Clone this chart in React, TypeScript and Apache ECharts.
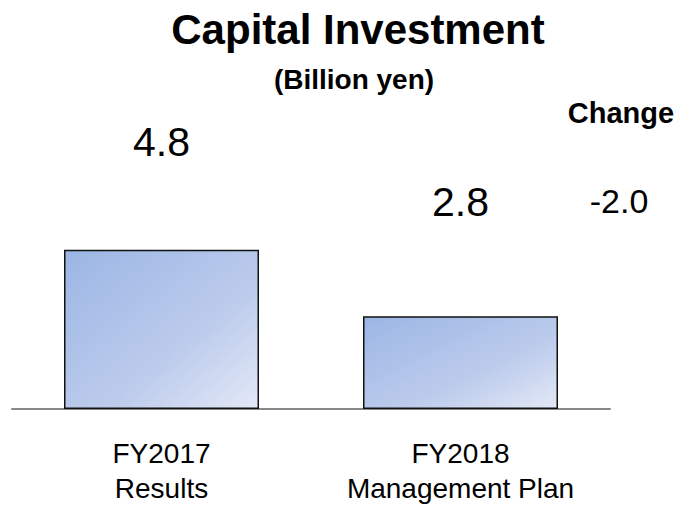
import React, { useEffect, useRef } from "react";
import * as echarts from "echarts";

const categories = ["FY2017\nResults", "FY2018\nManagement Plan"];
const values = [4.8, 2.8];
const titleText = "Capital Investment";
const unitText = "(Billion yen)";
const changeTitle = "Change";
const changeValue = (values[1] - values[0]).toFixed(1);

export default function App() {
  const ref = useRef<HTMLDivElement>(null);
  useEffect(() => {
    document.body.style.margin = "0";
    const chart = echarts.init(ref.current!, null, { renderer: "svg" });
    const font = "Liberation Sans, Arial, sans-serif";
    chart.setOption({
      animation: false,
      backgroundColor: "#ffffff",
      grid: { left: 12, width: 598, top: 210, height: 201 },
      xAxis: {
        type: "category",
        data: categories,
        axisLine: { lineStyle: { color: "#888888", width: 2 } },
        axisTick: { show: false },
        axisLabel: { interval: 0, fontFamily: font, fontSize: 28, color: "#000", lineHeight: 35, margin: 27 },
      },
      yAxis: { type: "value", min: 0, max: 6, show: false, splitLine: { show: false } },
      graphic: [
        { type: "text", x: 358, y: 29, style: { text: titleText, font: `bold 42px ${font}`, fill: "#000", align: "center", verticalAlign: "middle" } },
        { type: "text", x: 354, y: 79, style: { text: unitText, font: `bold 28px ${font}`, fill: "#000", align: "center", verticalAlign: "middle" } },
        { type: "text", x: 621, y: 113, style: { text: changeTitle, font: `bold 29px ${font}`, fill: "#000", align: "center", verticalAlign: "middle" } },
        { type: "text", x: 619, y: 201, style: { text: changeValue, font: `34px ${font}`, fill: "#000", align: "center", verticalAlign: "middle" } },
      ],
      series: [
        {
          type: "bar",
          data: [
            { value: values[0], label: { distance: 87 } },
            { value: values[1], label: { distance: 94 } },
          ],
          barWidth: 195,
          itemStyle: {
            color: new echarts.graphic.LinearGradient(0, 0, 1, 1, [
              { offset: 0, color: "#9bb6e4" },
              { offset: 0.6, color: "#bccbec" },
              { offset: 1, color: "#e2e8f6" },
            ]),
            borderColor: "#111111",
            borderWidth: 1.5,
          },
          label: {
            show: true,
            position: "top",
            fontFamily: font,
            fontSize: 41,
            color: "#000",
            formatter: (p: any) => Number(p.value).toFixed(1),
          },
        },
      ],
    });
    return () => chart.dispose();
  }, []);
  return <div ref={ref} style={{ width: 682, height: 506 }} />;
}
